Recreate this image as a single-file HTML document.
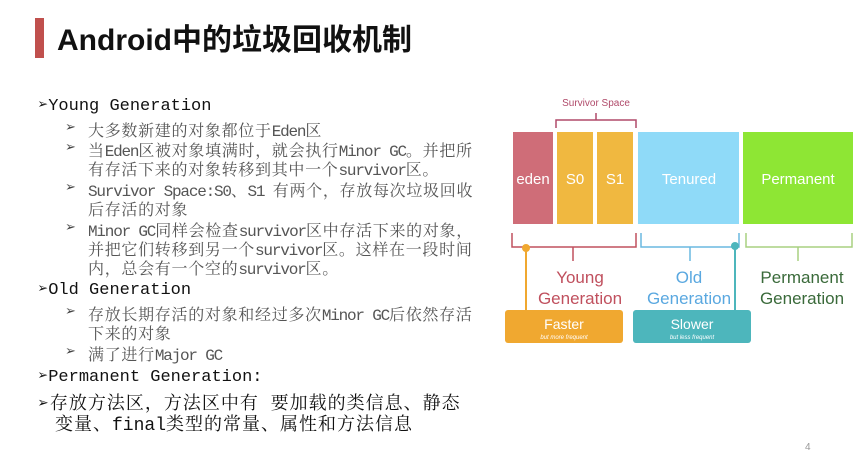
<!DOCTYPE html>
<html><head><meta charset="utf-8">
<style>
html,body{margin:0;padding:0;background:#fff;}
body{width:860px;height:452px;position:relative;overflow:hidden;}
.t{position:absolute;white-space:nowrap;font-family:"Liberation Mono","Noto Serif CJK SC",monospace;}
.m{font-size:17px;color:#111;left:38px;}
.s{font-size:16px;color:#555;letter-spacing:0.7px;left:88px;}
.l{letter-spacing:-1.2px;}
.b{position:absolute;font-size:13px;color:#444;left:65px;white-space:nowrap;font-family:"DejaVu Sans",sans-serif;}
</style></head><body>
<div style="position:absolute;left:35px;top:18px;width:9px;height:40px;background:#c0504d"></div>
<div style="position:absolute;left:57px;top:15px;font-family:'Liberation Sans','Noto Sans CJK SC',sans-serif;font-weight:bold;font-size:30px;color:#111;white-space:nowrap">Android中的垃圾回收机制</div>

<div class="t m" style="top:95px">➢Young Generation</div>
<div class="b" style="top:120px">➢</div><div class="t s" style="top:118px">大多数新建的对象都位于<span class="l">Eden</span>区</div>
<div class="b" style="top:140px">➢</div><div class="t s" style="top:138px">当<span class="l">Eden</span>区被对象填满时，就会执行<span class="l">Minor GC</span>。并把所</div>
<div class="t s" style="top:157px">有存活下来的对象转移到其中一个<span class="l">survivor</span>区。</div>
<div class="b" style="top:180px">➢</div><div class="t s" style="top:178px"><span class="l">Survivor Space:S0</span>、<span class="l">S1 </span>有两个，存放每次垃圾回收</div>
<div class="t s" style="top:197px">后存活的对象</div>
<div class="b" style="top:220px">➢</div><div class="t s" style="top:218px"><span class="l">Minor GC</span>同样会检查<span class="l">survivor</span>区中存活下来的对象，</div>
<div class="t s" style="top:237px">并把它们转移到另一个<span class="l">survivor</span>区。这样在一段时间</div>
<div class="t s" style="top:256px">内，总会有一个空的<span class="l">survivor</span>区。</div>
<div class="t m" style="top:279px">➢Old Generation</div>
<div class="b" style="top:304px">➢</div><div class="t s" style="top:302px">存放长期存活的对象和经过多次<span class="l">Minor GC</span>后依然存活</div>
<div class="t s" style="top:321px">下来的对象</div>
<div class="b" style="top:344px">➢</div><div class="t s" style="top:342px">满了进行<span class="l">Major GC</span></div>
<div class="t m" style="top:366px">➢Permanent Generation:</div>
<div class="t m" style="top:389px;font-size:18px;letter-spacing:1px">➢存放方法区，方法区中有 要加载的类信息、静态</div>
<div class="t m" style="top:410px;left:55px;font-size:18px;letter-spacing:1px">变量、<span style="letter-spacing:0">final</span>类型的常量、属性和方法信息</div>

<svg style="position:absolute;left:0;top:0" width="860" height="452" font-family="Liberation Sans,sans-serif">
<text x="596" y="106" font-size="10" fill="#b04a6a" text-anchor="middle">Survivor Space</text>
<path d="M556,128 V120 H636 V128 M596,120 V113" stroke="#b04a6a" stroke-width="1.5" fill="none"/>
<rect x="513" y="132" width="40" height="92" fill="#cf6d78"/>
<rect x="557" y="132" width="36" height="92" fill="#f0b840"/>
<rect x="597" y="132" width="36" height="92" fill="#f0b840"/>
<rect x="638" y="132" width="101" height="92" fill="#8fdaf8"/>
<rect x="743" y="132" width="110" height="92" fill="#8ee634"/>
<g fill="#fff" font-size="15" text-anchor="middle">
<text x="533" y="184">eden</text><text x="575" y="184">S0</text><text x="615" y="184">S1</text>
<text x="689" y="184">Tenured</text><text x="798" y="184">Permanent</text></g>
<path d="M512,233 V247 H636 V233 M573,247 V261" stroke="#c0505e" stroke-width="1.5" fill="none"/>
<path d="M641,233 V247 H739 V233 M690,247 V261" stroke="#6ab8e0" stroke-width="1.5" fill="none"/>
<path d="M746,233 V247 H852 V233 M798,247 V261" stroke="#a8d080" stroke-width="1.5" fill="none"/>
<g font-size="17" text-anchor="middle">
<text x="580" y="283" fill="#c0505e">Young</text><text x="580" y="304" fill="#c0505e">Generation</text>
<text x="689" y="283" fill="#5aa8e0">Old</text><text x="689" y="304" fill="#5aa8e0">Generation</text>
<text x="802" y="283" fill="#3a6a3a">Permanent</text><text x="802" y="304" fill="#3a6a3a">Generation</text></g>
<line x1="526" y1="248" x2="526" y2="312" stroke="#f0a830" stroke-width="2"/>
<circle cx="526" cy="248" r="4" fill="#f0a830"/>
<line x1="735" y1="246" x2="735" y2="312" stroke="#4db6bc" stroke-width="2"/>
<circle cx="735" cy="246" r="4" fill="#4db6bc"/>
<rect x="505" y="310" width="118" height="33" rx="3" fill="#f0a830"/>
<rect x="633" y="310" width="118" height="33" rx="3" fill="#4db6bc"/>
<g fill="#fff" text-anchor="middle"><text x="564" y="329" font-size="14">Faster</text>
<text x="564" y="339" font-size="6" font-style="italic">but more frequent</text>
<text x="692" y="329" font-size="14">Slower</text>
<text x="692" y="339" font-size="6" font-style="italic">but less frequent</text></g>
<text x="805" y="450" font-size="10" fill="#999">4</text>
</svg>
</body></html>
